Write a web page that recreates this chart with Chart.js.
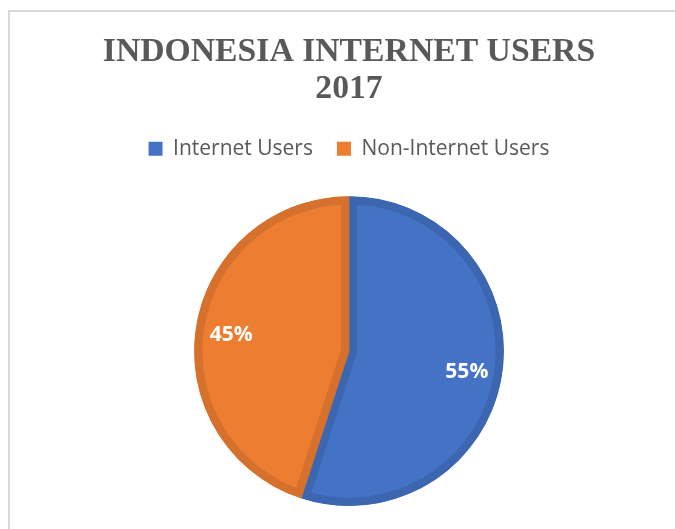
<!DOCTYPE html>
<html>
<head>
<meta charset="utf-8">
<script src="https://cdn.jsdelivr.net/npm/chart.js@4"></script>
<style>
  html, body { margin: 0; padding: 0; background: #ffffff; }
  #wrap { position: absolute; left: 0; top: 0; width: 675px; height: 529px; }
</style>
</head>
<body>
<div id="wrap"><canvas id="c" width="675" height="529"></canvas></div>
<script>
const titleLines = ["INDONESIA INTERNET USERS", "2017"];
const categories = ["Internet Users", "Non-Internet Users"];
const values = [55, 45];
const fillColors = ["#4472c4", "#ed7d31"];
const borderColors = ["#3c66b0", "#d5712c"];

const frameBorder = {
  id: 'frameBorder',
  beforeDraw(chart) {
    const ctx = chart.ctx;
    ctx.save();
    ctx.fillStyle = '#dadada';
    ctx.fillRect(8, 10, 667, 2);
    ctx.fillRect(8, 10, 2, 519);
    ctx.restore();
  }
};

const legendGap = {
  id: 'legendGap',
  beforeInit(chart) {
    const orig = chart.legend.fit;
    chart.legend.fit = function () {
      orig.call(this);
      this.height += 27;
    };
  }
};

const pctLabels = {
  id: 'pctLabels',
  afterDatasetsDraw(chart) {
    const ctx = chart.ctx;
    const meta = chart.getDatasetMeta(0);
    const total = values.reduce((a, b) => a + b, 0);
    ctx.save();
    ctx.fillStyle = '#ffffff';
    ctx.font = 'bold 21px "Open Sans", sans-serif';
    ctx.textAlign = 'center';
    ctx.textBaseline = 'alphabetic';
    meta.data.forEach((arc, i) => {
      const p = arc.getProps(['x', 'y', 'startAngle', 'endAngle', 'outerRadius'], true);
      const mid = (p.startAngle + p.endAngle) / 2;
      const r = p.outerRadius * 0.77;
      const x = p.x + Math.cos(mid) * r;
      const y = p.y + Math.sin(mid) * r;
      ctx.fillText(Math.round(values[i] / total * 100) + '%', x, y + 8.5);
    });
    ctx.restore();
  }
};

new Chart(document.getElementById('c'), {
  type: 'pie',
  data: {
    labels: categories,
    datasets: [{
      data: values,
      backgroundColor: fillColors,
      borderColor: borderColors,
      borderWidth: 8,
      borderAlign: 'inner'
    }]
  },
  options: {
    responsive: false,
    animation: false,
    events: [],
    layout: { padding: { left: 23, right: 0, top: 0, bottom: 23 } },
    plugins: {
      title: {
        display: true,
        text: titleLines,
        color: '#595959',
        font: { family: '"Liberation Serif", "Times New Roman", serif', size: 33.7, weight: 'bold', lineHeight: 1.1 },
        padding: { top: 34, bottom: 6 }
      },
      legend: {
        display: true,
        position: 'top',
        labels: {
          color: '#595959',
          font: { family: '"Open Sans", sans-serif', size: 21 },
          boxWidth: 14,
          boxHeight: 14,
          padding: 24,
          generateLabels(chart) {
            return categories.map((name, i) => ({
              text: name,
              fillStyle: fillColors[i],
              strokeStyle: fillColors[i],
              lineWidth: 0,
              fontColor: '#595959',
              hidden: false,
              index: i
            }));
          }
        }
      },
      tooltip: { enabled: false }
    }
  },
  plugins: [frameBorder, legendGap, pctLabels]
});
</script>
</body>
</html>
